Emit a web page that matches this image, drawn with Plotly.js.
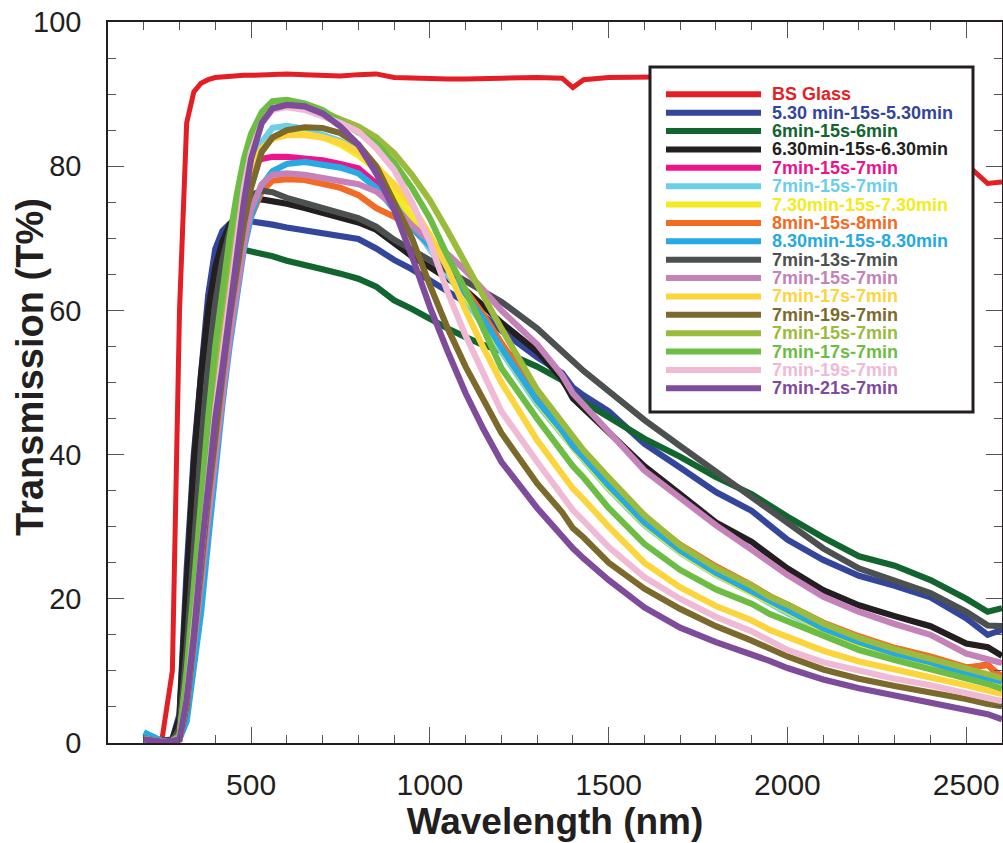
<!DOCTYPE html>
<html>
<head>
<meta charset="utf-8">
<script src="https://cdn.plot.ly/plotly-3.0.1.min.js"></script>
<style>html,body{margin:0;padding:0;background:#fff;}#chart{width:1003px;height:843px;}</style>
</head>
<body>
<div id="chart"></div>
<script>
// Wavelength grid (nm)
const wavelength = [200, 250, 280, 300, 320, 340, 360, 380, 400, 420, 440, 460, 480, 500, 530, 560, 600, 650, 700, 750, 800, 850, 900, 950, 1000, 1050, 1100, 1150, 1200, 1300, 1370, 1400, 1430, 1500, 1600, 1700, 1800, 1900, 1950, 2000, 2100, 2200, 2300, 2400, 2500, 2560, 2600];

// Series names (legend labels)
const seriesNames = ["BS Glass", "5.30 min-15s-5.30min", "6min-15s-6min", "6.30min-15s-6.30min", "7min-15s-7min", "7min-15s-7min", "7.30min-15s-7.30min", "8min-15s-8min", "8.30min-15s-8.30min", "7min-13s-7min", "7min-15s-7min", "7min-17s-7min", "7min-19s-7min", "7min-15s-7min", "7min-17s-7min", "7min-19s-7min", "7min-21s-7min"];

// Series colours
const seriesColors = ["#e31e24", "#33469b", "#13652f", "#231f20", "#ec148c", "#6ccfe8", "#f3eb20", "#f26a24", "#27a9e1", "#4d5050", "#c482b8", "#fcd43c", "#7b6a2b", "#9cbb3c", "#6dbd45", "#f0bad5", "#7f4b9b"];

// Transmission (T%) values per series
const tBSGlass = [0.5, 0.2, 10, 60, 86, 90.3, 91.5, 92, 92.3, 92.4, 92.4, 92.5, 92.6, 92.6, 92.7, 92.7, 92.8, 92.7, 92.6, 92.5, 92.7, 92.8, 92.3, 92.2, 92.1, 92.1, 92.1, 92.2, 92.2, 92.3, 92.2, 90.9, 92, 92.3, 92.4, 92.4, 92.2, 91.5, 91, 90.5, 89, 87, 85, 83, 80.3, 77.6, 77.8];
const t530 = [1.2, 0.3, 0.5, 4, 24, 40, 51, 62, 68.5, 71, 72, 72.4, 72.5, 72.4, 72.2, 71.9, 71.5, 71.1, 70.8, 70.4, 69.9, 68.6, 67, 65.7, 64.2, 62.7, 61.1, 59.3, 57.2, 53.5, 51.3, 49.3, 48.2, 46, 41.5, 38.2, 34.8, 32.2, 30.2, 28.2, 25.4, 23.2, 21.8, 20.2, 17.3, 15, 15.7];
const t6 = [0.8, 0.3, 0.4, 3, 21, 38, 50, 59, 64.5, 67.3, 68.3, 68.5, 68.4, 68.2, 68, 67.5, 66.9, 66.2, 65.7, 65.1, 64.4, 63.3, 61.4, 60.2, 58.8, 57.5, 56.3, 55.2, 54.4, 52.2, 50.3, 48.3, 47.3, 45.3, 42.2, 39.7, 36.9, 34.5, 32.9, 31.4, 28.5, 25.9, 24.6, 22.6, 20, 18.2, 18.7];
const t630 = [0.8, 0.3, 0.4, 3.5, 22, 39, 51, 60, 66, 69.5, 71.8, 73.3, 74.4, 75.1, 75.4, 75.2, 74.8, 74.2, 73.6, 72.9, 72.2, 71.2, 69.3, 67.5, 66, 64.5, 62.8, 60.6, 58.3, 54.3, 50.5, 47.8, 46.4, 43.2, 38.4, 34.5, 30.6, 27.9, 26, 24.2, 21.2, 19.1, 17.6, 16.2, 13.8, 13.3, 12.1];
const t7a = [0.5, 0.2, 0.3, 1.5, 12, 24, 35, 45, 55, 63, 70, 75, 78.5, 80.2, 81, 81.3, 81.3, 81.1, 80.8, 80.3, 79.7, 77.6, 74.5, 71.5, 68.8, 65.5, 62, 58.5, 54.8, 47.6, 43.5, 41.5, 40, 36, 31, 27.2, 24.2, 21.6, 20.1, 18.8, 16.4, 14.5, 13, 11.8, 10.3, 10.9, 8.8];
const t7b = [0.5, 0.2, 0.3, 1, 8, 18, 29, 40, 50, 58, 65, 71, 76, 79.8, 83.3, 85.3, 85.6, 85.2, 84.4, 83.5, 82, 79.5, 76, 72, 68.5, 65, 61.5, 58, 54.3, 47, 42.8, 40.8, 39.2, 35.2, 30.2, 26.4, 23.3, 20.8, 19.3, 18, 15.6, 13.7, 12.2, 11, 9.4, 8.8, 8.2];
const t730 = [0.6, 0.2, 0.3, 1.2, 9, 19, 30, 40, 49, 57, 64, 70, 75, 78.5, 82, 84, 84.6, 84.5, 84, 83, 81.5, 79.5, 76.5, 72.8, 69.2, 65.6, 62, 58.4, 54.6, 47.3, 43, 41, 39.4, 35.4, 30.4, 26.5, 23.4, 20.8, 19.4, 18.1, 15.7, 13.8, 12.3, 11, 9.5, 8.9, 8.3];
const t8 = [0.5, 0.2, 0.3, 0.8, 6, 15, 25, 35, 44, 51, 57.5, 64, 69.5, 73, 76.5, 78, 78.2, 78.1, 77.6, 77, 76, 74.2, 73, 71.5, 69.3, 66.2, 62.8, 59.4, 55.5, 48.3, 44, 42, 40.4, 36.5, 31.4, 27.5, 24.5, 21.9, 20.4, 19.2, 16.7, 14.8, 13.2, 12, 10.5, 10.8, 9.2];
const t830 = [1.5, 0.3, 0.3, 0.6, 3, 10, 18, 28, 38, 47, 55, 62.5, 68.5, 73, 77.3, 79.3, 80.3, 80.6, 80.3, 79.8, 79, 77, 74, 71.5, 69, 65.8, 62.2, 58.8, 54.8, 47.5, 43.3, 41.2, 39.6, 35.7, 30.6, 26.7, 23.6, 21, 19.6, 18.3, 15.9, 14, 12.4, 11.2, 9.6, 9, 8.5];
const t13s = [0.6, 0.2, 0.3, 2, 13, 28, 41, 52, 61, 67, 71, 73.5, 75, 76, 76.6, 76.4, 75.6, 74.9, 74.2, 73.6, 72.8, 71.6, 69.8, 68.4, 67, 65.5, 64.2, 62.8, 61.2, 57.5, 54.2, 52.8, 51.6, 48.8, 44.8, 41.2, 37.6, 34, 32.2, 30.5, 27, 24.2, 22.5, 20.8, 18.2, 16.3, 16.2];
const t15sA = [0.5, 0.2, 0.3, 0.8, 5, 13, 22, 31, 40, 48, 56, 63, 69, 74, 77.5, 78.8, 79, 78.8, 78.4, 78, 77.5, 76.5, 74.5, 71.8, 69.6, 67.8, 65.5, 62.8, 60, 55.3, 51, 48.5, 47, 43.2, 37.8, 34, 30.2, 26.8, 25, 23.3, 20.3, 18.2, 16.5, 15, 12.4, 11.6, 11.1];
const t17sA = [0.5, 0.2, 0.3, 1, 9, 20, 31, 41, 50, 58, 65, 71, 76, 79.5, 82.5, 83.8, 84.3, 84.3, 84, 83.3, 82, 80, 77.5, 74.5, 70.5, 65.8, 60, 54.8, 50, 42, 37.5, 35.3, 33.8, 30, 25, 21.6, 19, 17, 15.7, 14.8, 12.8, 11.3, 10.1, 9.1, 8, 7.3, 6.8];
const t19sA = [0.5, 0.2, 0.3, 0.5, 5, 14, 24, 34, 43, 51, 59, 66, 72, 77, 82, 84, 85, 85.4, 85.3, 84.6, 83, 80, 75, 70, 63.5, 57.5, 52.2, 47.5, 43, 36, 32, 29.8, 28.5, 25, 21.4, 18.6, 16.2, 14.2, 13.1, 12, 10.2, 8.9, 7.9, 7.1, 6.1, 5.4, 5.1];
const t15sB = [0.5, 0.2, 0.3, 0.8, 8, 19, 30, 41, 51, 60, 67, 73.5, 78.5, 82.5, 86, 88, 88.6, 88.3, 87.5, 86.5, 85.5, 84, 81.8, 78.8, 75.3, 71, 66.5, 62, 57.5, 49, 44.5, 42.3, 40.6, 36.8, 31.6, 27.4, 24.3, 21.8, 20.3, 19.2, 16.6, 14.6, 13, 11.7, 10.3, 9.6, 9];
const t17sB = [0.6, 0.2, 0.3, 1, 10, 22, 34, 45, 55, 63, 70, 76, 81, 84.5, 87.5, 89, 89.2, 88.7, 87.8, 86.2, 84.7, 83.2, 80.5, 77, 72.8, 67.5, 62.8, 57.5, 52, 45, 40.4, 38.4, 36.8, 32.6, 27.6, 24, 21.3, 19.3, 17.9, 16.9, 14.7, 12.9, 11.5, 10.3, 8.9, 8.2, 7.5];
const t19sB = [0.5, 0.2, 0.3, 0.6, 6, 16, 27, 37, 46, 54, 62, 70, 77, 82, 86, 87.8, 88.2, 87.8, 87, 86, 84.8, 82.5, 79.5, 75, 69.5, 62.5, 56.5, 51, 46, 39, 34.3, 32.3, 30.8, 27.2, 23, 20, 17.5, 15.5, 14.2, 12.9, 11.2, 10, 8.9, 8, 6.9, 6.2, 5.8];
const t21s = [0.5, 0.2, 0.3, 0.5, 6, 15, 26, 36, 45, 52, 60, 68, 75, 81, 86, 88, 88.5, 88.3, 87.3, 85.5, 83, 79, 74, 67.5, 60.5, 54.3, 48.5, 43.5, 39, 32.6, 28.6, 27, 25.6, 22.6, 18.8, 16, 14, 12.4, 11.4, 10.4, 8.8, 7.6, 6.6, 5.7, 4.6, 4, 3.3];

const seriesValues = [tBSGlass, t530, t6, t630, t7a, t7b, t730, t8, t830, t13s, t15sA, t17sA, t19sA, t15sB, t17sB, t19sB, t21s];

// Plot frame in pixels (figure is 1003 x 843)
const FIG_W = 1003, FIG_H = 843;
const M = {l: 108, r: 1, t: 22, b: 100};
const PL = M.l, PR = FIG_W - M.r, PT = M.t, PB = FIG_H - M.b;
const px2x = px => (px - PL) / (PR - PL);
const py2y = py => (PB - py) / (PB - PT);

const FONT = "Liberation Sans, Arial, Helvetica, sans-serif";
const INK = "#231f20";

const traces = seriesValues.map((vals, i) => ({
  type: "scatter",
  mode: "lines",
  name: seriesNames[i],
  x: wavelength,
  y: vals,
  line: {color: seriesColors[i], width: i === 0 ? 5 : 6.2, shape: "linear"},
  hoverinfo: "x+y+name"
}));

// Hand-drawn legend box (long sample lines, tight rows as in the reference)
const shapes = [];
const annotations = [];
const LEG = {x0: 650, x1: 973, y0: 67, y1: 412, row0: 94.3, rowStep: 18.375, lineX0: 666, lineX1: 761, textX: 770};
shapes.push({
  type: "rect", xref: "paper", yref: "paper", layer: "above",
  x0: px2x(LEG.x0), x1: px2x(LEG.x1), y0: py2y(LEG.y1), y1: py2y(LEG.y0),
  line: {color: INK, width: 3}, fillcolor: "white"
});
seriesNames.forEach((name, i) => {
  const yy = py2y(LEG.row0 + i * LEG.rowStep);
  shapes.push({
    type: "line", xref: "paper", yref: "paper", layer: "above",
    x0: px2x(LEG.lineX0), x1: px2x(LEG.lineX1), y0: yy, y1: yy,
    line: {color: seriesColors[i], width: 6}
  });
  annotations.push({
    xref: "paper", yref: "paper", x: px2x(LEG.textX), y: yy,
    xanchor: "left", yanchor: "middle", showarrow: false,
    text: name,
    font: {family: FONT, size: 18, color: seriesColors[i], weight: "bold"}
  });
});

// Y-axis title placed as rotated text (sits slightly above the axis centre in the reference)
annotations.push({
  xref: "paper", yref: "paper", x: px2x(30), y: py2y(367),
  xanchor: "center", yanchor: "middle", showarrow: false, textangle: -90,
  text: "Transmission (T%)",
  font: {family: FONT, size: 38, color: INK, weight: "bold"}
});

const axisCommon = {
  showgrid: false, zeroline: false,
  showline: true, linecolor: INK, linewidth: 1.5, mirror: "ticks",
  ticks: "inside", ticklen: 16, tickwidth: 1.2, tickcolor: "#555",
  tickfont: {family: FONT, size: 30, color: INK}
};

const layout = {
  width: FIG_W, height: FIG_H,
  margin: M,
  paper_bgcolor: "white", plot_bgcolor: "white",
  showlegend: false,
  xaxis: Object.assign({}, axisCommon, {
    range: [100, 2600], tick0: 0, dtick: 500,
    minor: {tick0: 0, dtick: 100, ticks: "inside", ticklen: 8, tickwidth: 1.2, tickcolor: "#555", showgrid: false},
    ticklabelstandoff: 14,
    title: {text: "Wavelength (nm)", font: {family: FONT, size: 37, color: INK, weight: "bold"}, standoff: 2}
  }),
  yaxis: Object.assign({}, axisCommon, {
    range: [0, 100], tick0: 0, dtick: 20,
    minor: {tick0: 0, dtick: 5, ticks: "inside", ticklen: 8, tickwidth: 1.2, tickcolor: "#555", showgrid: false},
    ticklabelstandoff: 19,
    tickfont: {family: FONT, size: 29, color: INK}
  }),
  shapes: shapes,
  annotations: annotations
};

Plotly.newPlot("chart", traces, layout, {displayModeBar: false, responsive: false});
</script>
</body>
</html>
